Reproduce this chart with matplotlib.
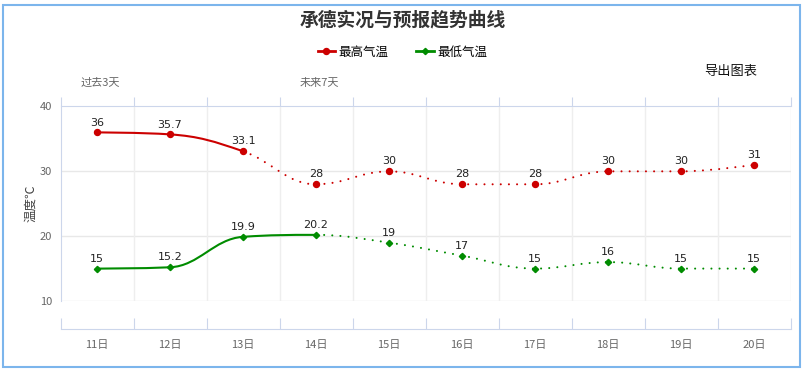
import numpy as np
import matplotlib
matplotlib.use("Agg")
import matplotlib.pyplot as plt
from matplotlib.path import Path
from matplotlib.patches import PathPatch, Rectangle
from matplotlib.lines import Line2D
import matplotlib.transforms as mtransforms

plt.rcParams['font.family'] = ['Noto Sans CJK SC', 'DejaVu Sans']

days = ['11日', '12日', '13日', '14日', '15日', '16日', '17日', '18日', '19日', '20日']
t_max = [36, 35.7, 33.1, 28, 30, 28, 28, 30, 30, 31]
t_min = [15, 15.2, 19.9, 20.2, 19, 17, 15, 16, 15, 15]
max_labels = ['36', '35.7', '33.1', '28', '30', '28', '28', '30', '30', '31']
min_labels = ['15', '15.2', '19.9', '20.2', '19', '17', '15', '16', '15', '15']
max_obs_end = 2   # last observed point for max temp
min_obs_end = 3   # last observed point for min temp
red = '#cc0000'
green = '#008c00'
axis_col = '#ccd6eb'
grid_col = '#e8e8e8'


def spline_ctrl(xs, ys, smoothing=1.5):
    # highcharts-like spline control points
    n = len(xs)
    left = [(xs[i], ys[i]) for i in range(n)]
    right = [(xs[i], ys[i]) for i in range(n)]
    d = smoothing + 1
    for i in range(1, n - 1):
        x, y = xs[i], ys[i]
        lx, ly = xs[i - 1], ys[i - 1]
        nx, ny = xs[i + 1], ys[i + 1]
        lcx = (smoothing * x + lx) / d
        lcy = (smoothing * y + ly) / d
        rcx = (smoothing * x + nx) / d
        rcy = (smoothing * y + ny) / d
        if rcx != lcx:
            corr = (rcy - lcy) * (rcx - x) / (rcx - lcx) + y - rcy
            lcy += corr
            rcy += corr
        if lcy > ly and lcy > y:
            lcy = max(ly, y)
            rcy = 2 * y - lcy
        elif lcy < ly and lcy < y:
            lcy = min(ly, y)
            rcy = 2 * y - lcy
        if rcy > ny and rcy > y:
            rcy = max(ny, y)
            lcy = 2 * y - rcy
        elif rcy < ny and rcy < y:
            rcy = min(ny, y)
            lcy = 2 * y - rcy
        left[i] = (lcx, lcy)
        right[i] = (rcx, rcy)
    return left, right


def spline_path(xs, ys, i0, i1):
    left, right = spline_ctrl(xs, ys)
    verts = [(xs[i0], ys[i0])]
    codes = [Path.MOVETO]
    for i in range(i0 + 1, i1 + 1):
        verts += [right[i - 1], left[i], (xs[i], ys[i])]
        codes += [Path.CURVE4] * 3
    return Path(verts, codes)


fig = plt.figure(figsize=(8.05, 3.7), dpi=100)
W, H = 805, 370
ax = fig.add_axes([60.5 / W, (H - 301) / H, 730 / W, 194.5 / H])

x = np.arange(len(days))
ax.set_xlim(-0.5, len(days) - 0.5)
ax.set_ylim(10, 40)

for ys, col, end, mk, ms, labels in [(t_max, red, max_obs_end, 'o', 4.3, max_labels),
                                       (t_min, green, min_obs_end, 'D', 3.2, min_labels)]:
    solid = spline_path(list(x), ys, 0, end)
    dotted = spline_path(list(x), ys, end, len(ys) - 1)
    ax.add_patch(PathPatch(solid, fill=False, edgecolor=col, lw=1.5, zorder=3))
    ax.add_patch(PathPatch(dotted, fill=False, edgecolor=col, lw=1.5,
                           linestyle=(0, (0.01, 3.9)), capstyle='round', zorder=3))
    ax.plot(x, ys, linestyle='none', marker=mk, ms=ms, color=col, zorder=4)
    for xi, yi, lab in zip(x, ys, labels):
        ax.annotate(lab, (xi, yi), xytext=(0, 3.5), textcoords='offset points',
                    ha='center', va='bottom', fontsize=8, color='#222222',
                    family='DejaVu Sans', zorder=5)

# grid
for yv in [10, 20, 30]:
    ax.axhline(yv, color=grid_col, lw=1, zorder=1)
bounds = np.arange(-0.5, len(days), 1.0)
for b in bounds[1:]:
    ax.axvline(b, color='#eeeeee', lw=1, zorder=1)

ax.set_yticks([10, 20, 30, 40])
ax.tick_params(axis='y', length=0, labelsize=8, labelcolor='#666666', pad=6)
ax.set_ylabel('温度℃', fontsize=9, color='#444444', labelpad=2)

# bottom axis, offset below plot
ax.spines['bottom'].set_position(('outward', 20))
ax.spines['bottom'].set_color(axis_col)
ax.spines['right'].set_visible(False)
ax.spines['left'].set_color(axis_col)
ax.spines['top'].set_visible(False)
ax.set_xticks(bounds)
ax.set_xticklabels([])
ax.tick_params(axis='x', which='major', direction='in', length=8, color=axis_col)
ax.set_xticks(x, minor=True)
ax.set_xticklabels(days, minor=True)
ax.tick_params(axis='x', which='minor', length=0, labelsize=8, labelcolor='#666666', pad=8)

# top axis ticks
top = ax.secondary_xaxis('top')
top.set_xticks(bounds)
top.set_xticklabels([])
top.tick_params(direction='out', length=6.5, color=axis_col)
top.spines['top'].set_color(axis_col)
top.spines['top'].set_linewidth(0.8)

tr = mtransforms.blended_transform_factory(ax.transData, fig.transFigure)
ax.text(0.05, 1 - 83 / H, '过去3天', transform=tr, ha='center', va='center',
        fontsize=8, color='#666666')
ax.text(3.05, 1 - 83 / H, '未来7天', transform=tr, ha='center', va='center',
        fontsize=8, color='#666666')

fig.text(0.5, 1 - 20 / H, '承德实况与预报趋势曲线', ha='center', va='center',
         fontsize=13.5, fontweight='bold', color='#333333')
fig.text(731 / W, 1 - 71 / H, '导出图表', ha='center', va='center',
         fontsize=9.5, color='#111111')

handles = [Line2D([], [], color=red, lw=2, marker='o', ms=4.3),
           Line2D([], [], color=green, lw=2, marker='D', ms=3.2)]
fig.legend(handles, ['最高气温', '最低气温'], loc='center', bbox_to_anchor=(0.5, 1 - 52 / H),
           ncol=2, frameon=False, fontsize=9, handlelength=1.4, handletextpad=0.3,
           columnspacing=2.2)

fig.patches.append(Rectangle((3 / W, 3 / H), 797 / W, 362 / H, transform=fig.transFigure,
                             fill=False, edgecolor='#7cb5ec', lw=1.5))

fig.savefig('out.png', dpi=100)
